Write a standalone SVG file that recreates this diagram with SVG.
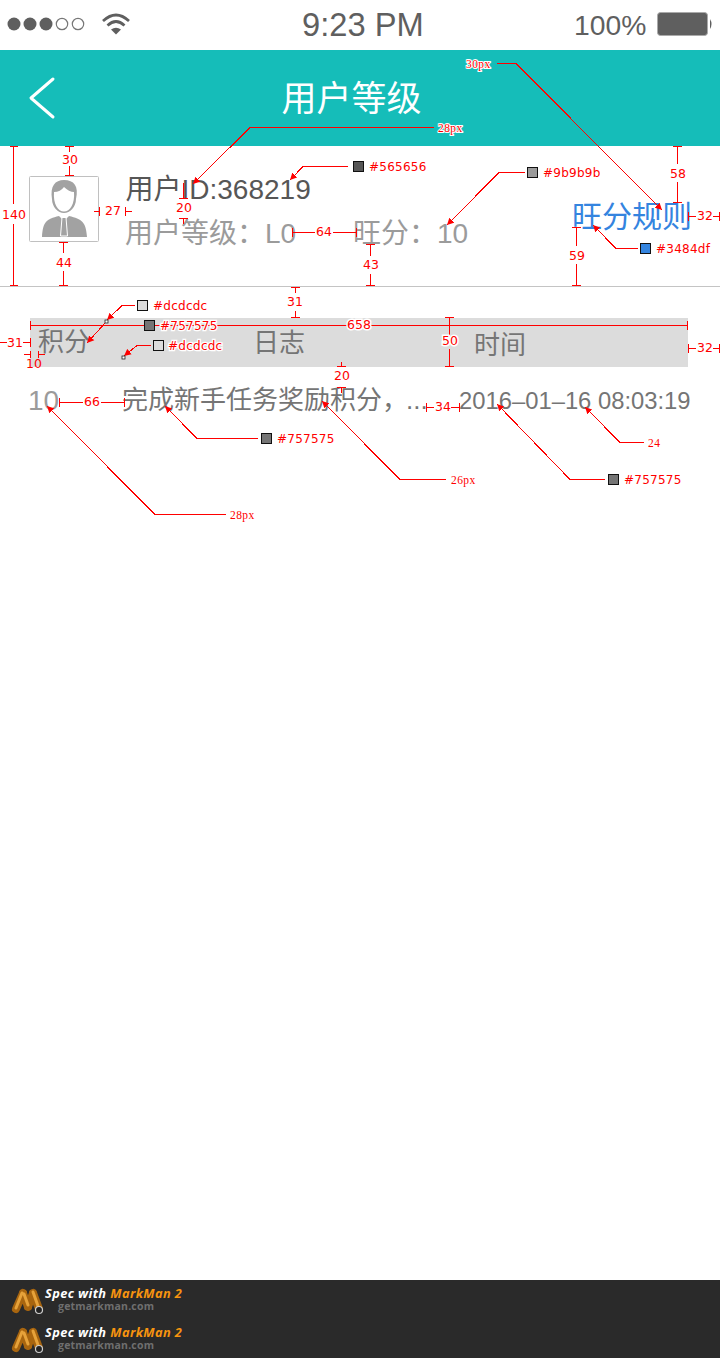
<svg xmlns="http://www.w3.org/2000/svg" xmlns:xlink="http://www.w3.org/1999/xlink" width="720" height="1358" viewBox="0 0 720 1358">
<style>
text{font-family:"Liberation Sans","Noto Sans CJK SC",sans-serif}
.dim{fill:none;stroke:#f00;stroke-width:1;shape-rendering:crispEdges}
.lead{fill:none;stroke:#f00;stroke-width:1;shape-rendering:crispEdges;marker-end:url(#ah)}
.lbl{font-family:"DejaVu Sans",sans-serif;font-size:12.5px;fill:#f00;text-anchor:middle}
.col{font-family:"DejaVu Sans",sans-serif;font-size:12px;letter-spacing:.25px;fill:#f00;paint-order:stroke;stroke:#fff;stroke-width:2.5px}
.px{font-family:"Liberation Serif",serif;font-size:11.5px;letter-spacing:.4px;fill:#f00;paint-order:stroke;stroke:#fff;stroke-width:2px}
.sw{stroke:#111;stroke-width:1;shape-rendering:crispEdges}
.st{fill:#5f5f5f}
.ad1{font-family:"Open Sans",sans-serif;font-size:12.8px;font-weight:700;font-style:italic;letter-spacing:.4px}
.ad2{font-family:"Open Sans",sans-serif;font-size:10.5px;font-weight:700;fill:#6f6f6f;letter-spacing:.2px}
</style>
<defs>
<marker id="ah" markerUnits="userSpaceOnUse" markerWidth="8" markerHeight="8" refX="7" refY="4" orient="auto"><path d="M0 0.5L7 4L0 7.5Z" fill="#f00"/></marker>
<g id="logo">
<path d="M16 1309L23 1293M23 1293L28 1307M28 1307L33 1293M33 1293L39 1309" fill="none" stroke="#a8650f" stroke-width="8" stroke-linecap="round" stroke-linejoin="round"/>
<path d="M16 1308L22 1293M33 1292L38 1306M24 1294L28 1305" fill="none" stroke="#e6a23a" stroke-width="3" stroke-linecap="round"/>
<circle cx="39" cy="1310" r="3.500" fill="#222" stroke="#cfcfcf" stroke-width="1.200"/>
</g>
</defs>
<rect width="720" height="1358" fill="#fff"/>
<g id="status-bar">
<circle class="st" cx="14" cy="24" r="6.500"/><circle class="st" cx="30" cy="24" r="6.500"/><circle class="st" cx="46" cy="24" r="6.500"/>
<circle cx="62" cy="24" r="5.700" fill="none" stroke="#777" stroke-width="1.200"/><circle cx="78" cy="24" r="5.700" fill="none" stroke="#777" stroke-width="1.200"/>
<g fill="none" stroke="#5f5f5f" stroke-width="2.700"><path d="M103 21Q116 9 129 21"/><path d="M107.500 25.500Q116 17.500 124.500 25.500"/></g>
<path class="st" d="M111 29.500Q116 26 121 29.500L116 34.500Z"/>
<text class="st" x="302" y="36" font-size="32.700">9:23 PM</text>
<text class="st" x="574" y="35" font-size="28.300">100%</text>
<rect x="657.500" y="12.500" width="50" height="23" rx="3" fill="#5f5f5f" stroke="#aaa" stroke-width="1"/>
<path class="st" d="M710 19Q713 24 710 29Z"/>
</g>
<g id="nav-bar">
<rect y="50" width="720" height="96" fill="#15bdb9"/>
<path d="M53 79L31 98L53 117" fill="none" stroke="#fff" stroke-width="3" stroke-linecap="round" stroke-linejoin="round"/>
<text x="281.500" y="111" font-size="35" fill="#fff">用户等级</text>
</g>
<g id="avatar">
<rect x="29.500" y="176.500" width="69" height="65" rx="1" fill="#fff" stroke="#c0c0c0"/>
<path d="M52 199C50 186 55 180 64 180C74 180 79 186 76 199C76 207 70 213 64 213C58 213 52 207 52 199Z" fill="#a2a2a2"/>
<path d="M54 192C58 192 62 190 64 187C67 190 71 192 74 192C75 204 70 211.500 64 211.500C58 211.500 53 204 54 192Z" fill="#fff"/>
<path d="M42 237C43 222 46 219 59 216L64 221L69 216C82 219 86 222 87 237Z" fill="#a2a2a2"/>
<path d="M62 217.500H66L67.500 236H60.500Z" fill="#a2a2a2" stroke="#fff" stroke-width="1"/>
</g>
<g id="user-info">
<text x="125.500" y="199" font-size="28" fill="#565656">用户ID:368219</text>
<text x="125" y="243" font-size="28" fill="#9b9b9b">用户等级：L0</text>
<text x="353" y="243" font-size="28" fill="#9b9b9b">旺分：10</text>
</g>
<g id="rules-link"><text x="572" y="227" font-size="30" fill="#3484df">旺分规则</text></g>
<rect id="divider" y="286" width="720" height="1" fill="#c4c4c4"/>
<g id="table-header">
<rect x="30" y="318" width="658" height="49" fill="#dcdcdc"/>
<text x="38" y="351" font-size="26" fill="#757575">积分</text>
<text x="253" y="352" font-size="26" fill="#757575">日志</text>
<text x="474" y="354" font-size="26" fill="#757575">时间</text>
</g>
<g id="table-row">
<text x="28" y="410" font-size="28" fill="#9b9b9b">10</text>
<text x="122" y="409" font-size="26" fill="#757575">完成新手任务奖励积分，<tspan x="406">...</tspan></text>
<text x="459" y="409" font-size="23.800" fill="#757575">2016–01–16 08:03:19</text>
</g>
<g id="connectors">
<path class="lead" d="M434 127.500H250L193 184"/>
<path class="lead" d="M497 63.500H516L662 210"/>
<path class="lead" d="M348 166.500H303L290 180"/>
<path class="lead" d="M525 172.500H499L447 225"/>
<path class="lead" d="M638 248.500H616L593 225"/>
<path class="lead" d="M135 305.500H122L107 320"/>
<path class="lead" d="M107 321L87 343"/>
<path class="lead" d="M151 345.500H137L124 356"/>
<path class="lead" d="M258 438.500H197L165 406"/>
<path class="lead" d="M226 514.500H155L47 406"/>
<path class="lead" d="M446 479.500H400L322 401"/>
<path class="lead" d="M605 479.500H570L497 404"/>
<path class="lead" d="M644 442.500H620L585 407"/>
<rect x="105" y="320" width="3" height="3" fill="#fff" stroke="#222" stroke-width=".8"/>
<rect x="122" y="356" width="3" height="3" fill="#fff" stroke="#222" stroke-width=".8"/>
<path class="dim" d="M13.500 146V204M13.500 224V286M10 146.500H18M10 285.500H18"/>
<path class="dim" d="M69.500 146V152M69.500 166V176M65 146.500H74M65 175.500H74"/>
<path class="dim" d="M63.500 242V253M63.500 271V286M59 242.500H68M59 285.500H68"/>
<path class="dim" d="M94 211.500H99M99.500 207V216M125.500 207V216M126 211.500H132"/>
<path class="dim" d="M183.500 183V199M179 198.500H188M179 218.500H188M183.500 218V224"/>
<path class="dim" d="M292.500 228V237M292 232.500H315M333 232.500H357M356.500 228V237"/>
<path class="dim" d="M295.500 287V293M295.500 311V318M291 287.500H300M291 317.500H300"/>
<path class="dim" d="M370.500 244V256M370.500 274V286M366 244.500H375M366 285.500H375"/>
<path class="dim" d="M677.500 146V164M677.500 182V203M673 146.500H682M673 202.500H682"/>
<path class="dim" d="M576.500 227V246M576.500 264V286M572 227.500H581M572 285.500H581"/>
<path class="dim" d="M688.500 212V221M688 216.500H696M713 216.500H720M719.500 212V221"/>
<path class="dim" d="M30.500 321V330M31 325.500H688M687.500 321V330"/>
<path class="dim" d="M449.500 317V335M449.500 349V366M445 317.500H454M445 366.500H454"/>
<path class="dim" d="M0 342.500H7M23 342.500H30M30.500 338V347"/>
<path class="dim" d="M688.500 344V353M688 348.500H696M713 348.500H720M719.500 344V353"/>
<path class="dim" d="M24 354.500H30M30.500 351V358M38.500 351V358M38 354.500H45"/>
<path class="dim" d="M341.500 362V367M337 366.500H346M337 387.500H346M341.500 387V393"/>
<path class="dim" d="M59.500 398V407M59 402.500H83M101 402.500H125M124.500 398V407"/>
<path class="dim" d="M426.500 403V412M426 407.500H434M451 407.500H460M459.500 403V412"/>
<g class="sw">
<rect x="353.500" y="161.500" width="10" height="10" fill="#565656"/>
<rect x="527.500" y="167.500" width="10" height="10" fill="#9b9b9b"/>
<rect x="640.500" y="243.500" width="10" height="10" fill="#3484df"/>
<rect x="137.500" y="300.500" width="10" height="10" fill="#dcdcdc"/>
<rect x="144.500" y="320.500" width="10" height="10" fill="#757575"/>
<rect x="153.500" y="340.500" width="10" height="10" fill="#dcdcdc"/>
<rect x="261.500" y="433.500" width="10" height="10" fill="#757575"/>
<rect x="608.500" y="474.500" width="10" height="10" fill="#757575"/>
</g>
<text class="col" x="369" y="171">#565656</text>
<text class="col" x="543" y="177">#9b9b9b</text>
<text class="col" x="656" y="253">#3484df</text>
<text class="col" x="153" y="310">#dcdcdc</text>
<text class="col" x="160" y="330">#757575</text>
<text class="col" x="168" y="350">#dcdcdc</text>
<text class="col" x="277" y="443">#757575</text>
<text class="col" x="624" y="484">#757575</text>
<text class="px" x="438" y="132">28px</text>
<text class="px" x="466" y="68">30px</text>
<text class="px" x="230" y="519">28px</text>
<text class="px" x="451" y="484">26px</text>
<text class="px" x="648" y="447">24</text>
<text class="lbl" x="14" y="219">140</text>
<text class="lbl" x="70" y="164">30</text>
<text class="lbl" x="64" y="267">44</text>
<text class="lbl" x="113" y="215">27</text>
<text class="lbl" x="184" y="212">20</text>
<text class="lbl" x="324" y="236">64</text>
<text class="lbl" x="295" y="306">31</text>
<text class="lbl" x="371" y="269">43</text>
<text class="lbl" x="678" y="178">58</text>
<text class="lbl" x="577" y="260">59</text>
<text class="lbl" x="705" y="220">32</text>
<text class="lbl" x="359" y="329" style="paint-order:stroke;stroke:#fff;stroke-width:3px">658</text>
<text class="lbl" x="450" y="345" style="paint-order:stroke;stroke:#fff;stroke-width:3px">50</text>
<text class="lbl" x="15" y="347">31</text>
<text class="lbl" x="705" y="352">32</text>
<text class="lbl" x="34" y="368">10</text>
<text class="lbl" x="342" y="380">20</text>
<text class="lbl" x="92" y="406">66</text>
<text class="lbl" x="443" y="411">34</text>
</g>
<g id="markman-footer">
<rect y="1280" width="720" height="78" fill="#2a2a2a"/>
<use xlink:href="#logo" href="#logo"/>
<use xlink:href="#logo" href="#logo" y="39"/>
<text class="ad1" x="45" y="1298" fill="#fff">Spec with <tspan fill="#f7940f">MarkMan 2</tspan></text>
<text class="ad2" x="58" y="1310">getmarkman.com</text>
<text class="ad1" x="45" y="1337" fill="#fff">Spec with <tspan fill="#f7940f">MarkMan 2</tspan></text>
<text class="ad2" x="58" y="1349">getmarkman.com</text>
</g>
</svg>
